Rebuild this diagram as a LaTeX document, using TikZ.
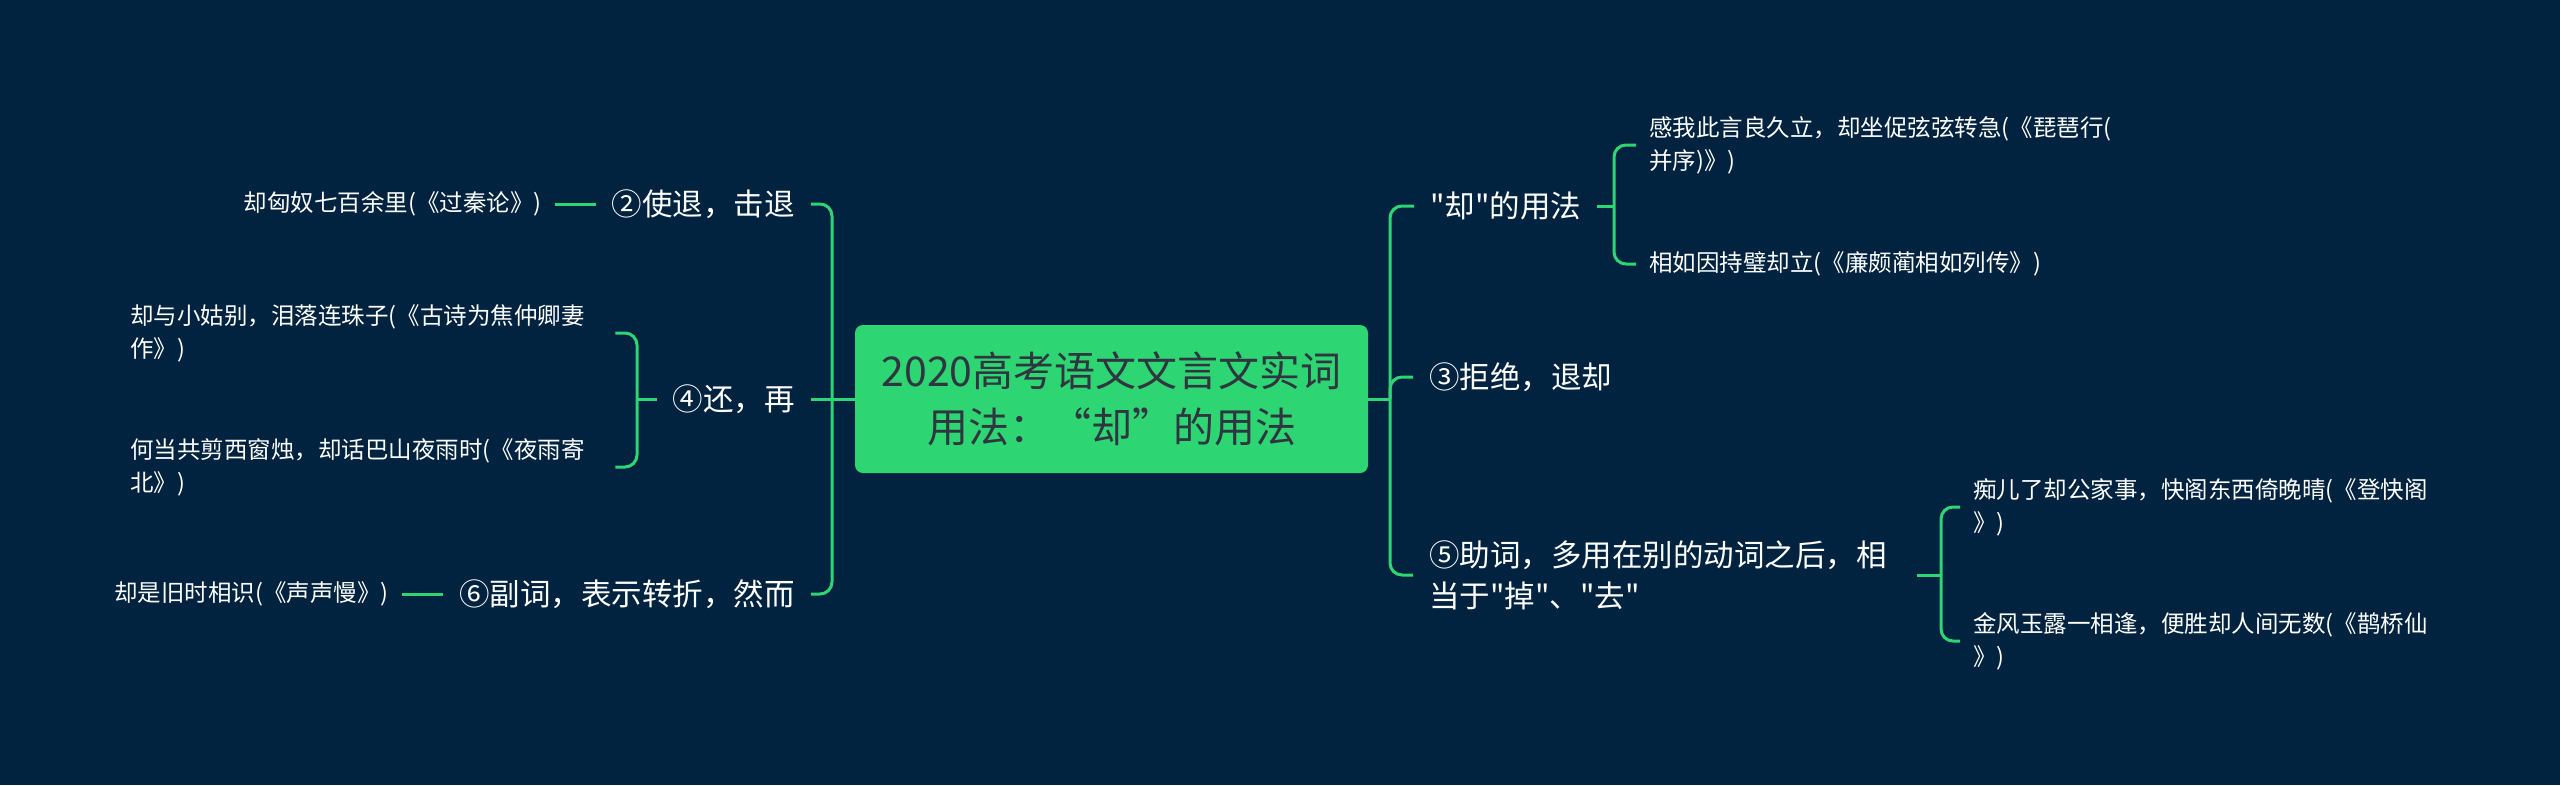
\documentclass[tikz,border=0pt]{standalone}
\usepackage{fontspec}
\setmainfont{Noto Sans CJK SC}[Ligatures=TeXOff]
\definecolor{bg}{HTML}{012340}
\definecolor{gr}{HTML}{2ED573}
\definecolor{dk}{HTML}{2F3640}
\begin{document}
\begin{tikzpicture}[x=1pt,y=-1pt,
  conn/.style={draw=gr,line width=3pt,rounded corners=12pt},
  root/.style={fill=gr,rounded corners=8pt,minimum width=513pt,minimum height=148pt,font=\fontsize{41}{56}\selectfont,text=dk,align=center},
  mainbr/.style={text=white,font=\fontsize{30.5}{41}\selectfont,inner xsep=16pt,inner ysep=4pt,align=left},
  leaf/.style={text=white,font=\fontsize{23.5}{33}\selectfont,inner xsep=13pt,inner ysep=4pt,align=left}]
\fill[bg] (0,0) rectangle (2560,785);
\useasboundingbox (0,0) rectangle (2560,785);
\node[root] (c) at (1111.5,399) {2020高考语文文言文实词\\用法：“却”的用法};
% right side
\node[mainbr,anchor=west] (n1) at (1414,206) {"却"的用法};
\node[mainbr,anchor=west] (n2) at (1413,377) {③拒绝，退却};
\node[mainbr,anchor=west,text width=472pt] (n3) at (1413,575) {⑤助词，多用在别的动词之后，相\\当于"掉"、"去"};
\node[leaf,anchor=west] (l1) at (1636,145) {感我此言良久立，却坐促弦弦转急(《琵琶行(\\并序)》)};
\node[leaf,anchor=west] (l2) at (1636,264) {相如因持璧却立(《廉颇蔺相如列传》)};
\node[leaf,anchor=west] (l3) at (1960,507) {痴儿了却公家事，快阁东西倚晚晴(《登快阁\\》)};
\node[leaf,anchor=west] (l4) at (1960,641) {金风玉露一相逢，便胜却人间无数(《鹊桥仙\\》)};
\coordinate (rj) at (1390,399);
\coordinate (b1) at (1614,206);
\coordinate (b3) at (1941,575);
\draw[conn] (c.east) -- (rj);
\draw[conn] (rj) |- (n1.west);
\draw[conn] (rj) |- (n2.west);
\draw[conn] (rj) |- (n3.west);
\draw[conn] (n1.east) -- (b1);
\draw[conn] (b1) |- (l1.west);
\draw[conn] (b1) |- (l2.west);
\draw[conn] (n3.east) -- (b3);
\draw[conn] (b3) |- (l3.west);
\draw[conn] (b3) |- (l4.west);
% left side
\node[mainbr,anchor=east] (m1) at (811,204) {②使退，击退};
\node[mainbr,anchor=east] (m2) at (811,399) {④还，再};
\node[mainbr,anchor=east] (m3) at (811,594) {⑥副词，表示转折，然而};
\node[leaf,anchor=east] (k1) at (555,204) {却匈奴七百余里(《过秦论》)};
\node[leaf,anchor=west,text width=472pt] (k2) at (117,333) {却与小姑别，泪落连珠子(《古诗为焦仲卿妻\\作》)};
\node[leaf,anchor=west,text width=472pt] (k3) at (117,467) {何当共剪西窗烛，却话巴山夜雨时(《夜雨寄\\北》)};
\node[leaf,anchor=east] (k4) at (402,594) {却是旧时相识(《声声慢》)};
\coordinate (lj) at (832,399);
\coordinate (b2) at (637,399);
\draw[conn] (c.west) -- (lj);
\draw[conn] (lj) |- (m1.east);
\draw[conn] (lj) -- (m2.east);
\draw[conn] (lj) |- (m3.east);
\draw[conn] (m1.west) -- (k1.east);
\draw[conn] (m2.west) -- (b2);
\draw[conn] (b2) |- (k2.east);
\draw[conn] (b2) |- (k3.east);
\draw[conn] (m3.west) -- (k4.east);
\end{tikzpicture}
\end{document}
